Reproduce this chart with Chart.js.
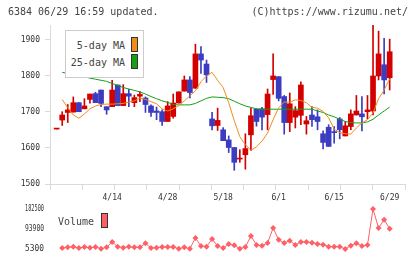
<!DOCTYPE html>
<html>
<head>
<meta charset="utf-8">
<script src="https://cdn.jsdelivr.net/npm/chart.js@4.4.1/dist/chart.umd.min.js"></script>
<style>
  body { margin: 0; background: #fff; overflow: hidden; }
  #wrap { position: relative; width: 420px; height: 259px; font-family: "DejaVu Sans Mono", monospace; color: #444; }
  canvas { position: absolute; left: 0; }
  .txt { position: absolute; font-size: 10px; line-height: 12px; white-space: nowrap; }
  .sw { position: absolute; box-sizing: border-box; width: 7px; height: 15px; border: 1px solid #333; }
  #legend { position: absolute; left: 65px; top: 30px; width: 79px; height: 48px; box-sizing: border-box; border: 1px solid #ccc; background: #fff; }
</style>
</head>
<body>
<div id="wrap">
  <canvas id="volumeChart" width="420" height="69" style="top:190px"></canvas>
  <canvas id="priceChart" width="420" height="194" style="top:0"></canvas>
  <div class="txt" style="left:8px; top:6px">6384 06/29 16:59 updated.</div>
  <div class="txt" style="right:12px; top:6px">(C)https://www.rizumu.net/</div>
  <div id="legend">
    <div class="txt" style="left:0; width:59px; text-align:right; top:9px">5-day MA</div>
    <div class="txt" style="left:0; width:59px; text-align:right; top:26px">25-day MA</div>
    <div class="sw" style="left:65px; top:6px; background:#f08c1a"></div>
    <div class="sw" style="left:65px; top:23px; background:#14a014"></div>
  </div>
  <div class="txt" style="left:58px; top:216px">Volume</div>
  <div class="sw" style="left:101px; top:213px; background:#ff5f66"></div>
</div>
<script>
// trading days 3/31 .. 6/29, index 0..60
const openP = [1652, 1677, 1698, 1699, 1725, 1708, 1734, 1750, 1760, 1714, 1714, 1774, 1717, 1750, 1725, 1743, 1738, 1716, 1702, 1700, 1673, 1687, 1724, 1757, 1788, 1765, 1860, 1832, 1680, 1662, 1650, 1622, 1601, 1569, 1581, 1636, 1707, 1708, 1692, 1789, 1797, 1742, 1670, 1685, 1690, 1666, 1691, 1686, 1639, 1657, 1645, 1680, 1633, 1659, 1691, 1694, 1700, 1702, 1799, 1830, 1794];
const highP = [1652, 1700, 1720, 1741, 1725, 1736, 1749, 1754, 1760, 1714, 1787, 1774, 1775, 1762, 1746, 1756, 1741, 1719, 1713, 1705, 1728, 1749, 1755, 1799, 1797, 1887, 1880, 1843, 1698, 1710, 1656, 1633, 1601, 1595, 1639, 1710, 1708, 1712, 1763, 1860, 1797, 1745, 1752, 1714, 1783, 1687, 1714, 1705, 1647, 1664, 1659, 1684, 1673, 1705, 1745, 1742, 1745, 1940, 1923, 1903, 1901];
const lowP = [1652, 1662, 1670, 1699, 1700, 1708, 1724, 1725, 1714, 1693, 1714, 1717, 1717, 1714, 1714, 1728, 1698, 1687, 1678, 1662, 1673, 1682, 1724, 1757, 1738, 1765, 1806, 1781, 1650, 1648, 1620, 1587, 1538, 1560, 1541, 1593, 1660, 1650, 1650, 1748, 1730, 1638, 1645, 1655, 1664, 1638, 1659, 1650, 1597, 1604, 1613, 1625, 1633, 1650, 1691, 1647, 1680, 1691, 1788, 1749, 1760];
const closeP = [1652, 1691, 1705, 1725, 1700, 1716, 1749, 1725, 1723, 1705, 1760, 1717, 1750, 1743, 1739, 1748, 1720, 1698, 1698, 1673, 1716, 1724, 1755, 1788, 1753, 1860, 1843, 1802, 1661, 1676, 1620, 1601, 1560, 1571, 1598, 1689, 1673, 1685, 1749, 1799, 1737, 1670, 1722, 1703, 1774, 1675, 1678, 1673, 1615, 1604, 1642, 1650, 1661, 1694, 1702, 1686, 1705, 1799, 1860, 1788, 1866];
const ma5 = [null, 1734, 1711, 1691, 1682, 1694, 1708, 1716, 1720, 1721, 1721, 1722, 1723, 1727, 1730, 1738, 1734, 1728, 1722, 1708, 1702, 1708, 1717, 1730, 1744, 1758, 1783, 1799, 1809, 1787, 1767, 1725, 1675, 1631, 1609, 1593, 1603, 1619, 1641, 1678, 1711, 1727, 1726, 1733, 1731, 1725, 1712, 1710, 1701, 1683, 1652, 1642, 1639, 1638, 1655, 1669, 1678, 1697, 1736, 1760, 1791];
const ma25 = [null, 1809, 1806, 1803, 1800, 1797, 1793, 1790, 1787, 1784, 1778, 1773, 1767, 1763, 1759, 1755, 1749, 1742, 1736, 1730, 1726, 1720, 1719, 1719, 1719, 1723, 1730, 1737, 1741, 1740, 1739, 1736, 1729, 1722, 1716, 1712, 1708, 1707, 1707, 1707, 1707, 1707, 1707, 1707, 1707, 1707, 1707, 1702, 1698, 1691, 1686, 1679, 1673, 1670, 1669, 1669, 1672, 1679, 1691, 1702, 1713];
const volume = [null, 9700, 12700, 15600, 9700, 14200, 11200, 14200, 6800, 12700, 36300, 15600, 11200, 15600, 12700, 12700, 30400, 9700, 11200, 14200, 14200, 14200, 6800, 12700, 6800, 54000, 18600, 15600, 49600, 18600, 9700, 27400, 21500, 6800, 14200, 62900, 23000, 20100, 31900, 98300, 46600, 31900, 42200, 23000, 36300, 36300, 33400, 27400, 24500, 15600, 15600, 15600, 5300, 20100, 30400, 18600, 23000, 182500, 98300, 135200, 95400];

// axis labels
const dateTicks = [10, 20, 30, 40, 50, 60];
const dateLabels = ["4/14", "4/28", "5/18", "6/1", "6/15", "6/29"];
const priceTicks = [1500, 1600, 1700, 1800, 1900];
const volTicks = [5300, 93900, 182500];

const X_MIN = -1.2;
const X_MAX = 62.76;
const RED = "#d40000";
const BLUE = "#3c3cc0";
const AXIS = "#dadada";
const tickFont = { family: "DejaVu Sans Mono", size: 8 };

const idx = openP.map((_, i) => i);
const candleColors = idx.map((i) => (closeP[i] >= openP[i] ? RED : BLUE));

// Price chart: candles as floating bars + moving averages
const priceCtx = document.getElementById("priceChart").getContext("2d");
new Chart(priceCtx, {
  type: "bar",
  data: {
    datasets: [
      {
        type: "line",
        data: idx.map((i) => ({ x: i, y: ma5[i] })),
        borderColor: "#f08c1a",
        borderWidth: 1,
        pointRadius: 0,
        order: 1,
      },
      {
        type: "line",
        data: idx.map((i) => ({ x: i, y: ma25[i] })),
        borderColor: "#14a014",
        borderWidth: 1,
        pointRadius: 0,
        order: 1,
      },
      {
        // bodies
        data: idx.map((i) => ({ x: i, y: [openP[i], closeP[i]] })),
        backgroundColor: candleColors,
        barThickness: 5,
        minBarLength: 1,
        grouped: false,
        order: 2,
      },
      {
        // wicks
        data: idx.map((i) => ({ x: i, y: [lowP[i], highP[i]] })),
        backgroundColor: candleColors,
        barThickness: 1,
        grouped: false,
        order: 3,
      },
    ],
  },
  options: {
    responsive: false,
    animation: false,
    layout: { padding: { top: 25, right: 15, left: 0, bottom: 0 } },
    plugins: { legend: { display: false }, tooltip: { enabled: false } },
    scales: {
      x: {
        type: "linear",
        min: X_MIN,
        max: X_MAX,
        offset: false,
        afterBuildTicks: (s) => {
          // 11 even divisions along the axis
          s.ticks = Array.from({ length: 12 }, (_, k) => ({ value: X_MIN + (k * (X_MAX - X_MIN)) / 11 }));
        },
        afterFit: (s) => { s.height = 10; },
        ticks: { display: false },
        grid: { offset: false, drawOnChartArea: false, tickLength: 6, color: AXIS },
        border: { color: AXIS },
      },
      y: {
        min: 1500,
        max: 1940,
        afterBuildTicks: (s) => { s.ticks = priceTicks.map((v) => ({ value: v })); },
        afterFit: (s) => { s.width = 50; },
        ticks: { font: tickFont, color: "#333", padding: 5, callback: (v) => String(v) },
        grid: { drawOnChartArea: false, tickLength: 5, color: AXIS },
        border: { color: AXIS },
      },
    },
  },
});

// volume tick labels squeezed into a fixed width like the original
const volumeLabels = {
  id: "volumeLabels",
  afterDraw(chart) {
    const c = chart.ctx;
    const y = chart.scales.y;
    c.save();
    c.font = '8px "DejaVu Sans Mono"';
    c.fillStyle = "#333";
    c.textAlign = "right";
    c.textBaseline = "middle";
    volTicks.forEach((v) => c.fillText(String(v), 44, y.getPixelForValue(v), 19));
    c.restore();
  },
};

// Volume chart
const volumeCtx = document.getElementById("volumeChart").getContext("2d");
new Chart(volumeCtx, {
  type: "line",
  data: {
    datasets: [
      {
        data: idx.map((i) => ({ x: i, y: volume[i] })),
        borderColor: "#ff5f66",
        borderWidth: 1,
        pointStyle: "rectRot",
        pointRadius: 3,
        pointBackgroundColor: "#ff5f66",
        pointBorderWidth: 0,
        clip: false,
      },
    ],
  },
  options: {
    responsive: false,
    animation: false,
    layout: { padding: { top: 0, right: 15, left: 0, bottom: 10 } },
    plugins: { legend: { display: false }, tooltip: { enabled: false } },
    scales: {
      x: {
        type: "linear",
        position: "top",
        min: X_MIN,
        max: X_MAX,
        afterBuildTicks: (s) => { s.ticks = dateTicks.map((v) => ({ value: v })); },
        afterFit: (s) => { s.height = 19; },
        ticks: {
          font: tickFont,
          color: "#333",
          padding: 6,
          maxRotation: 0,
          autoSkip: false,
          callback: (v, i) => dateLabels[i],
        },
        grid: { display: false, drawTicks: false },
        border: { display: false },
      },
      y: {
        min: 5300,
        max: 182500,
        afterBuildTicks: (s) => { s.ticks = volTicks.map((v) => ({ value: v })); },
        afterFit: (s) => { s.width = 50; },
        ticks: { display: false },
        grid: { display: false },
        border: { display: false },
      },
    },
  },
  plugins: [volumeLabels],
});
</script>
</body>
</html>
